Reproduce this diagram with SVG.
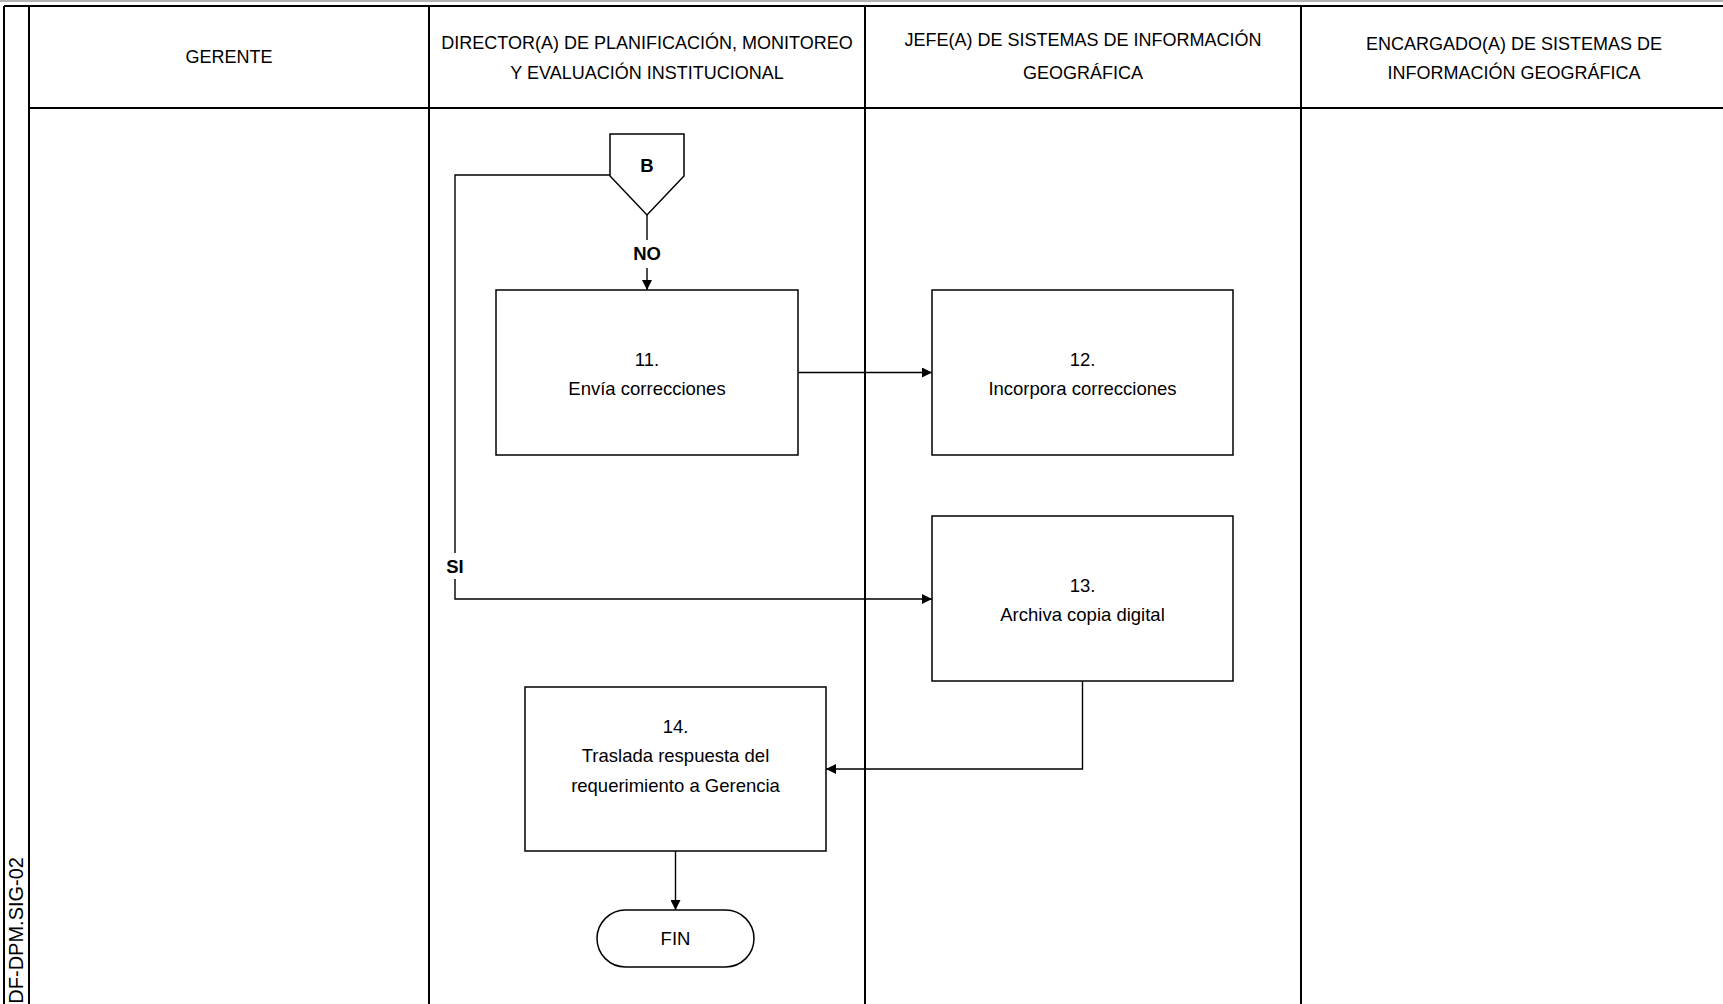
<svg xmlns="http://www.w3.org/2000/svg" width="1723" height="1004" viewBox="0 0 1723 1004">
  <style>
    .lane { stroke: #000; stroke-width: 2; fill: none; }
    .head { font-family: "Liberation Sans", Arial, sans-serif; font-size: 18px; fill: #000; text-anchor: middle; }
    .code { font-family: "Liberation Sans", Arial, sans-serif; font-size: 20px; fill: #000; text-anchor: end; }
    .box { fill: #fff; stroke: #000; stroke-width: 1.5; }
    .txt { font-family: "Liberation Sans", Arial, sans-serif; font-size: 18.5px; fill: #000; text-anchor: middle; }
    .lbl { font-family: "Liberation Sans", Arial, sans-serif; font-size: 18.5px; font-weight: bold; fill: #000; text-anchor: middle; }
    .conn { stroke: #000; stroke-width: 1.4; fill: none; }
  </style>
  <defs>
    <marker id="arrow" viewBox="0 0 10 10" refX="10" refY="5" markerWidth="10" markerHeight="10" markerUnits="userSpaceOnUse" orient="auto">
      <path d="M0,0 L10,5 L0,10 z" fill="#000"/>
    </marker>
  </defs>

  <rect width="1723" height="1004" fill="#fff"/>

  <!-- swimlane frame -->
  <g id="lanes">
    <line x1="0" y1="1" x2="1723" y2="1" stroke="#999" stroke-width="1.5"/>
    <line class="lane" x1="4" y1="6" x2="1723" y2="6"/>
    <line class="lane" x1="4" y1="6" x2="4" y2="1004"/>
    <line class="lane" x1="29" y1="6" x2="29" y2="1004"/>
    <line class="lane" x1="29" y1="108" x2="1723" y2="108"/>
    <line class="lane" x1="429" y1="6" x2="429" y2="1004"/>
    <line class="lane" x1="865" y1="6" x2="865" y2="1004"/>
    <line class="lane" x1="1301" y1="6" x2="1301" y2="1004"/>
    <text class="head" x="229" y="63">GERENTE</text>
    <text class="head" x="647" y="49">DIRECTOR(A) DE PLANIFICACIÓN, MONITOREO</text>
    <text class="head" x="647" y="79">Y EVALUACIÓN INSTITUCIONAL</text>
    <text class="head" x="1083" y="46">JEFE(A) DE SISTEMAS DE INFORMACIÓN</text>
    <text class="head" x="1083" y="79">GEOGRÁFICA</text>
    <text class="head" x="1514" y="50">ENCARGADO(A) DE SISTEMAS DE</text>
    <text class="head" x="1514" y="79">INFORMACIÓN GEOGRÁFICA</text>
    <text class="code" transform="translate(23,857) rotate(-90)">DF-DPM.SIG-02</text>
  </g>

  <!-- connectors -->
  <g id="connectors">
    <line class="conn" x1="647" y1="215" x2="647" y2="240"/>
    <line class="conn" x1="647" y1="268" x2="647" y2="290" marker-end="url(#arrow)"/>
    <text class="lbl" x="647" y="260">NO</text>
    <line class="conn" x1="798" y1="372.5" x2="932" y2="372.5" marker-end="url(#arrow)"/>
    <polyline class="conn" points="610,175 455,175 455,553"/>
    <polyline class="conn" points="455,579 455,599 932,599" marker-end="url(#arrow)"/>
    <text class="lbl" x="455" y="573">SI</text>
    <polyline class="conn" points="1082.5,681 1082.5,769 826,769" marker-end="url(#arrow)"/>
    <line class="conn" x1="675.5" y1="851" x2="675.5" y2="910" marker-end="url(#arrow)"/>
  </g>

  <!-- off-page connector B -->
  <g id="connector-B">
    <polygon class="box" points="610,134 684,134 684,176 647,215 610,176"/>
    <text class="lbl" x="647" y="172">B</text>
  </g>

  <g id="step-11">
    <rect class="box" x="496" y="290" width="302" height="165"/>
    <text class="txt" x="647" y="366">11.</text>
    <text class="txt" x="647" y="395">Envía correcciones</text>
  </g>

  <g id="step-12">
    <rect class="box" x="932" y="290" width="301" height="165"/>
    <text class="txt" x="1082.5" y="366">12.</text>
    <text class="txt" x="1082.5" y="395">Incorpora correcciones</text>
  </g>

  <g id="step-13">
    <rect class="box" x="932" y="516" width="301" height="165"/>
    <text class="txt" x="1082.5" y="592">13.</text>
    <text class="txt" x="1082.5" y="621">Archiva copia digital</text>
  </g>

  <g id="step-14">
    <rect class="box" x="525" y="687" width="301" height="164"/>
    <text class="txt" x="675.5" y="733">14.</text>
    <text class="txt" x="675.5" y="762">Traslada respuesta del</text>
    <text class="txt" x="675.5" y="792">requerimiento a Gerencia</text>
  </g>

  <g id="fin">
    <rect class="box" x="597" y="910" width="157" height="57" rx="28.5" ry="28.5"/>
    <text class="txt" x="675.5" y="945">FIN</text>
  </g>
</svg>
